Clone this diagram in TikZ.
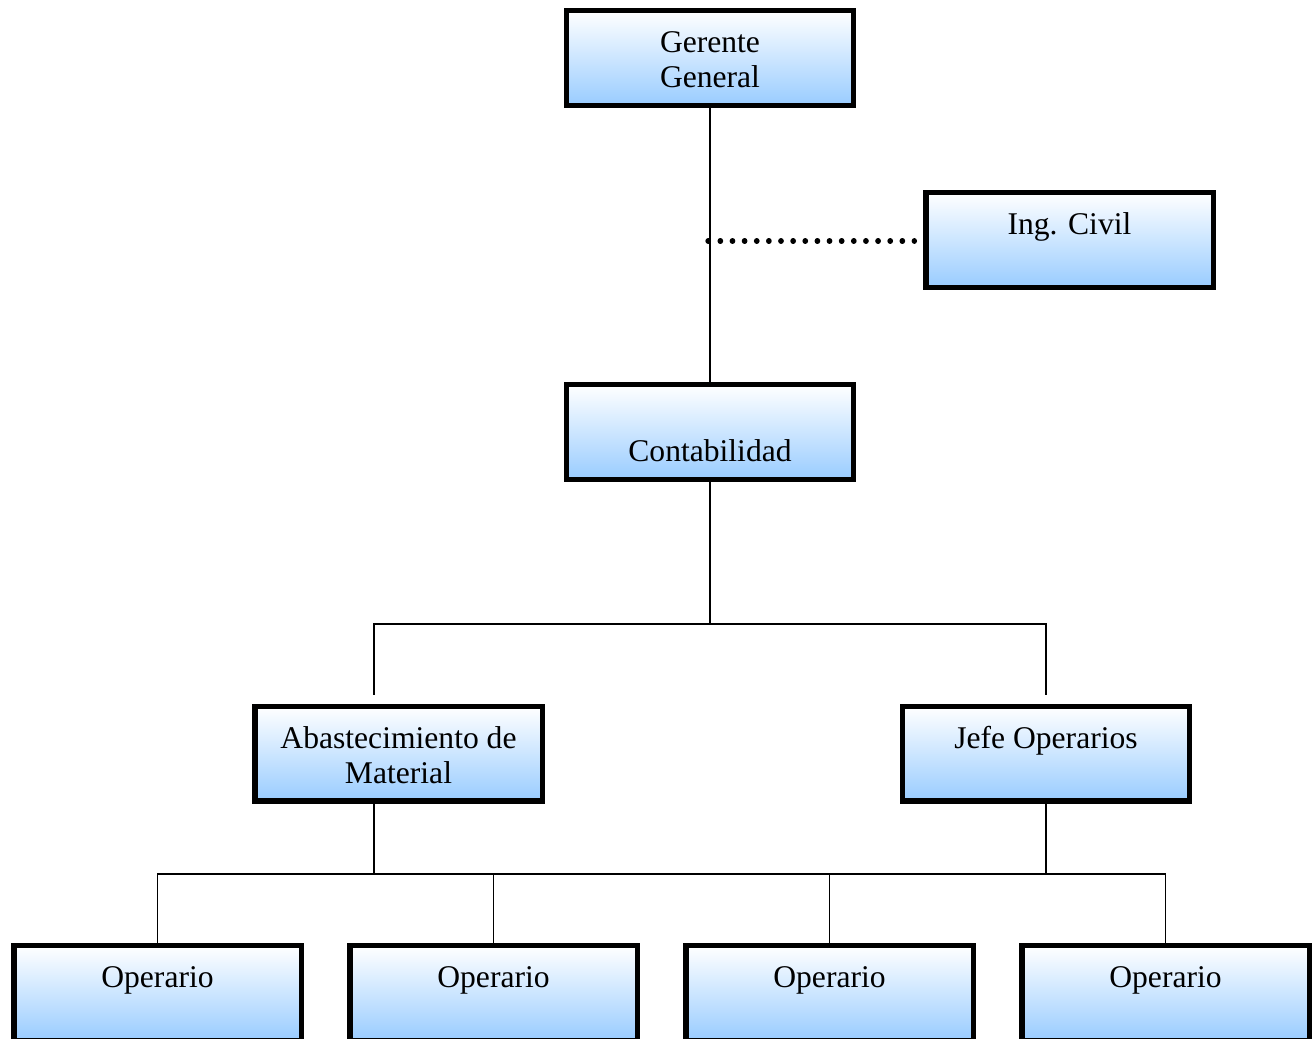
\documentclass[tikz,border=0pt]{standalone}
\usepackage{fontspec}
\setmainfont{Liberation Serif}
\definecolor{boxblue}{RGB}{153,204,255}
\newcommand{\topstrut}{\rule{0pt}{25.9pt}}
\newcommand{\botstrut}{\rule[-7.9pt]{0pt}{7.9pt}}
\begin{document}
\begin{tikzpicture}[x=0.75pt,y=-0.75pt,
  orgbox/.style={draw=black, line width=4.1pt, top color=white, bottom color=boxblue,
    minimum width=215.6pt, minimum height=70.9pt, inner sep=0pt, align=center,
    font=\fontsize{23.7}{26.25}\selectfont},
  link/.style={line width=1.2pt},
  dots/.style={line width=4pt, line cap=round, dash pattern=on 0.3pt off 8.8pt}]
\useasboundingbox (0,0) rectangle (1314,1039);
\clip (0,0) rectangle (1314,1039);
% boxes
\node[orgbox] (gg) at (710,58) {\topstrut Gerente\\General\botstrut};
\node[orgbox] (ic) at (1069.5,240) {\topstrut Ing. Civil\\\botstrut};
\node[orgbox] (co) at (710,432) {\topstrut\\Contabilidad\botstrut};
\node[orgbox] (ab) at (398.5,753.5) {\topstrut Abastecimiento de\\Material\botstrut};
\node[orgbox] (jo) at (1046,753.5) {\topstrut Jefe Operarios\\\botstrut};
\node[orgbox] (op1) at (157.5,993) {\topstrut Operario\\\botstrut};
\node[orgbox] (op2) at (493.5,993) {\topstrut Operario\\\botstrut};
\node[orgbox] (op3) at (829.5,993) {\topstrut Operario\\\botstrut};
\node[orgbox] (op4) at (1165.5,993) {\topstrut Operario\\\botstrut};
% junction coordinates
\coordinate (j1) at (710,624);
\coordinate (a1) at (374,624);
\coordinate (a2) at (1046,624);
\coordinate (b1) at (374,874);
\coordinate (b2) at (1046,874);
\coordinate (d0) at (708,241);
% connectors
\draw[link] (gg.south) -- (co.north);
\draw[dots, shorten >=6.5pt] (d0) -- (d0 -| ic.west);
\draw[link] (co.south) -- (j1);
\draw[link, shorten <=6.75pt, shorten >=6.75pt] (a1 |- ab.north) -- (a1) -- (a2) -- (a2 |- jo.north);
\draw[link] (b1 |- ab.south) -- (b1);
\draw[link] (b2 |- jo.south) -- (b2);
\draw[link] (op1.north) -- (op1.north |- b1) -- (op4.north |- b1) -- (op4.north);
\draw[link] (op2.north) -- (op2.north |- b1);
\draw[link] (op3.north) -- (op3.north |- b1);
\end{tikzpicture}
\end{document}
